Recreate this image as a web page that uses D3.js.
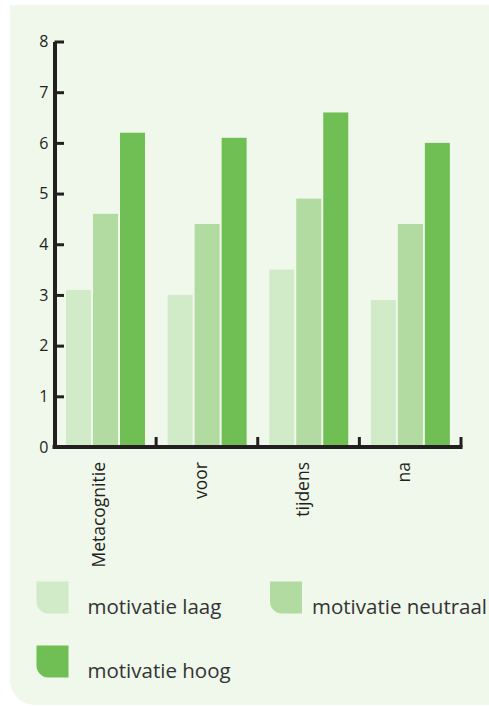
<!DOCTYPE html>
<html>
<head>
<meta charset="utf-8">
<script src="https://cdn.jsdelivr.net/npm/d3@7.9.0/dist/d3.min.js"></script>
<style>
  body { margin: 0; background: #fff; }
  svg { display: block; }
  text { font-family: "Open Sans", sans-serif; }
</style>
</head>
<body>
<svg id="chart" width="489" height="706"></svg>
<script>
// data
const categories = ['Metacognitie', 'voor', 'tijdens', 'na'];
const series = ['motivatie laag', 'motivatie neutraal', 'motivatie hoog'];
const laag = [3.1, 3.0, 3.5, 2.9];
const neutraal = [4.6, 4.4, 4.9, 4.4];
const hoog = [6.2, 6.1, 6.6, 6.0];
const yTicks = [0, 1, 2, 3, 4, 5, 6, 7, 8];

const values = [laag, neutraal, hoog];
const colors = ['#d1eac7', '#b1dba1', '#70bf55'];
const ink = '#231f20';

const svg = d3.select('#chart');

// background panel, rounded bottom-left corner
svg.append('path')
  .attr('d', 'M10,5 H489 V705 H35 A25,25 0 0 1 10,680 Z')
  .attr('fill', '#f0f7eb');

const x = d3.scaleBand().domain(categories).range([54.5, 461]);
const x1 = d3.scaleBand().domain(series).range([11.5, 90.5]).paddingInner(2 / 27);
const y = d3.scaleLinear().domain([0, 8]).range([447, 41.5]);

// bars
series.forEach((s, si) => {
  svg.append('g').selectAll('rect')
    .data(categories)
    .join('rect')
    .attr('x', (c) => x(c) + x1(s))
    .attr('width', x1.bandwidth())
    .attr('y', (c, i) => y(values[si][i]))
    .attr('height', (c, i) => y(0) - y(values[si][i]))
    .attr('fill', colors[si]);
});

// y axis
const yAxis = svg.append('g')
  .attr('transform', 'translate(54.5,0)')
  .call(d3.axisLeft(y).tickValues(yTicks).tickSizeInner(-9.5).tickSizeOuter(0).tickPadding(6));
yAxis.attr('font-family', null).attr('font-size', null);
yAxis.select('.domain').attr('stroke', ink).attr('stroke-width', 4);
yAxis.selectAll('.tick line').attr('stroke', ink).attr('stroke-width', 3);
yAxis.selectAll('.tick text').attr('fill', ink).style('font-size', '16px');

// x axis line
svg.append('line')
  .attr('x1', 52.5).attr('x2', x.range()[1] + 1.5)
  .attr('y1', y(0)).attr('y2', y(0))
  .attr('stroke', ink).attr('stroke-width', 4);

// separators between categories
svg.append('g').selectAll('line')
  .data(categories)
  .join('line')
  .attr('x1', (c) => x(c) + x.bandwidth())
  .attr('x2', (c) => x(c) + x.bandwidth())
  .attr('y1', y(0))
  .attr('y2', y(0) - 10)
  .attr('stroke', ink).attr('stroke-width', 3);

// category labels, rotated
svg.append('g').selectAll('text')
  .data(categories)
  .join('text')
  .attr('transform', (c) => `translate(${x(c) + x.bandwidth() / 2},462) rotate(-90)`)
  .attr('text-anchor', 'end')
  .attr('fill', ink)
  .style('font-size', '17.5px')
  .text((d) => d);

// legend
const legendPos = [[36.5, 581.5], [270, 581.5], [36.5, 645.5]];
const sw = 32, r = 12;
const legend = svg.append('g').selectAll('g')
  .data(series)
  .join('g')
  .attr('transform', (d, i) => `translate(${legendPos[i][0]},${legendPos[i][1]})`);
legend.append('path')
  .attr('d', `M0,0 H${sw} V${sw} H${r} A${r},${r} 0 0 1 0,${sw - r} Z`)
  .attr('fill', (d, i) => colors[i]);
legend.append('text')
  .attr('x', (d, i) => i === 1 ? 42 : 51)
  .attr('y', 32)
  .attr('fill', '#333')
  .style('font-size', '20.5px')
  .text((d) => d);
</script>
</body>
</html>
